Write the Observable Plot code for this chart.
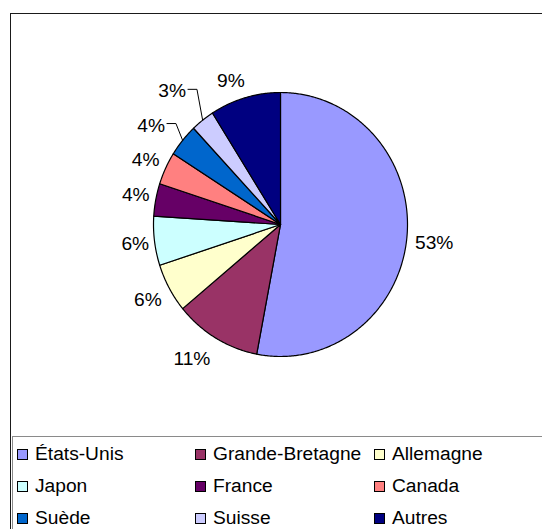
<!DOCTYPE html>
<html><head><meta charset="utf-8">
<script src="https://cdn.jsdelivr.net/npm/d3@7"></script>
<script src="https://cdn.jsdelivr.net/npm/@observablehq/plot@0.6"></script>
<style>
body{margin:0;background:#fff;}
#wrap{position:relative;width:542px;height:529px;overflow:hidden;font-family:"Liberation Sans",Arial,sans-serif;background:#fff;}
#chart{position:absolute;left:0;top:0;}
#frame{position:absolute;left:10px;top:13px;width:600px;height:600px;border:1.6px solid #1a1a1a;}
#legendbox{position:absolute;left:12px;top:436px;width:600px;height:200px;border:1.5px solid #8a8a8a;}
.item{position:absolute;display:flex;align-items:center;font-size:19.2px;line-height:1;color:#000;white-space:nowrap;height:20px;}
.sw{width:11px;height:11px;box-sizing:border-box;border:1px solid #000;margin-right:7px;flex:none;}
</style>
</head><body>
<div id="wrap"><div id="chart"></div><div id="frame"></div><div id="legendbox"></div><div id="legend"></div></div>
<script>
// ---- data ----
const categories = ["États-Unis","Grande-Bretagne","Allemagne","Japon","France","Canada","Suède","Suisse","Autres"];
const shares = [53, 11, 6, 6, 4, 4, 4, 3, 9];
const labels = ["53%","11%","6%","6%","4%","4%","4%","3%","9%"];
const colors = ["#9999FF","#993366","#FFFFCC","#CCFFFF","#660066","#FF8080","#0066CC","#CCCCFF","#000080"];

// ---- layout (pixels) ----
const X0 = 153, X1 = 407, Y0 = 356, Y1 = 92;
const labelRadius = 1.2;
const labelNudge = [[2,3],[-11,-2],[1,-1],[6,-1],[5,0],[3,3],[-12,2],[-15,-8],[-7,8]];
const leaderSlices = ["Suède","Suisse"];
const FS = 19.2;

const kx = (X1 - X0) / 2, ky = (Y0 - Y1) / 2, cxp = (X0 + X1) / 2, cyp = (Y0 + Y1) / 2;
const toData = (px, py) => ({x: (px - cxp) / kx, y: (cyp - py) / ky});
const toPix = (x, y) => [cxp + x * kx, cyp - y * ky];

const total = d3.sum(shares);
let cum = 0;
const slices = categories.map((c, i) => {
  const a0 = cum / total * 2 * Math.PI; cum += shares[i];
  const a1 = cum / total * 2 * Math.PI;
  return {c, i, a0, a1, mid: (a0 + a1) / 2};
});

const pts = [];
slices.forEach(s => {
  pts.push({k: s.c, x: 0, y: 0});
  const n = Math.max(4, Math.ceil((s.a1 - s.a0) / 0.01));
  for (let j = 0; j <= n; j++) {
    const a = s.a0 + (s.a1 - s.a0) * j / n;
    pts.push({k: s.c, x: Math.sin(a), y: Math.cos(a)});
  }
  pts.push({k: s.c, x: 0, y: 0});
});

const ctx = document.createElement("canvas").getContext("2d");
ctx.font = `${FS}px "Liberation Sans"`;

const textData = slices.map(s => {
  const [px, py] = toPix(labelRadius * Math.sin(s.mid), labelRadius * Math.cos(s.mid));
  const lx = px + labelNudge[s.i][0], ly = py + labelNudge[s.i][1];
  const d = toData(lx, ly);
  return {x: d.x, y: d.y, text: labels[s.i], c: s.c, px: lx, py: ly, w: ctx.measureText(labels[s.i]).width};
});

const leaders = [];
textData.forEach((t, i) => {
  if (!leaderSlices.includes(t.c)) return;
  const s = slices[i];
  const right = t.px + t.w / 2;
  const p0 = {x: Math.sin(s.mid), y: Math.cos(s.mid)};
  const p1 = toData(right + 11, t.py - 2);
  const p2 = toData(right + 2, t.py - 2);
  leaders.push({k: t.c, ...p0}, {k: t.c, ...p1}, {k: t.c, ...p2});
});

const plot = Plot.plot({
  width: 542, height: 529,
  marginTop: 0, marginRight: 0, marginBottom: 0, marginLeft: 0,
  style: {background: "transparent", overflow: "visible"},
  x: {domain: [-1, 1], range: [X0, X1], axis: null},
  y: {domain: [-1, 1], range: [Y0, Y1], axis: null},
  color: {type: "ordinal", domain: categories, range: colors},
  marks: [
    Plot.line(pts, {x: "x", y: "y", z: "k", fill: "k", stroke: "#000", strokeWidth: 1.2, strokeLinejoin: "round", curve: "linear"}),
    Plot.line(leaders, {x: "x", y: "y", z: "k", stroke: "#000", strokeWidth: 1, curve: "linear"}),
    Plot.text(textData, {x: "x", y: "y", text: "text", fontSize: FS, fontFamily: "Liberation Sans", fill: "#000", textAnchor: "middle"})
  ]
});
document.getElementById("chart").appendChild(plot);

// legend
const colLeft = [17, 195, 374];
const rowTop = [444, 476, 508];
const leg = document.getElementById("legend");
categories.forEach((c, i) => {
  const d = document.createElement("div");
  d.className = "item";
  d.style.left = colLeft[i % 3] + "px";
  d.style.top = rowTop[Math.floor(i / 3)] + "px";
  const sw = document.createElement("span");
  sw.className = "sw"; sw.style.background = colors[i];
  const tx = document.createElement("span");
  tx.textContent = c;
  d.appendChild(sw); d.appendChild(tx);
  leg.appendChild(d);
});
</script>
</body></html>
